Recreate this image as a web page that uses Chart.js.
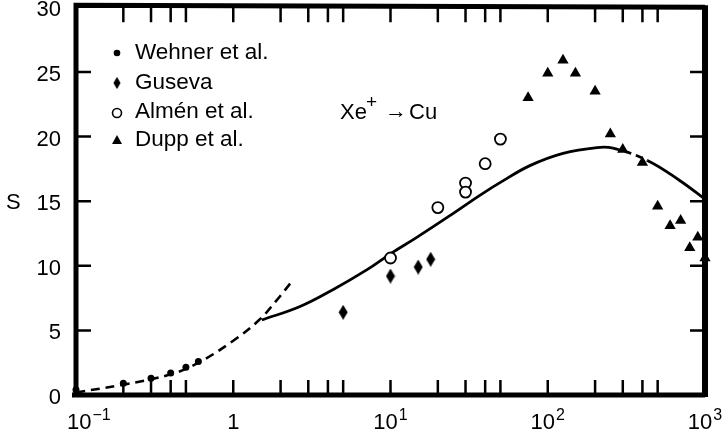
<!DOCTYPE html>
<html>
<head>
<meta charset="utf-8">
<script src="https://cdn.jsdelivr.net/npm/chart.js@4/dist/chart.umd.min.js"></script>
<style>
  html, body { margin: 0; padding: 0; background: #fff; }
  #wrap { width: 724px; height: 440px; }
</style>
</head>
<body>
<div id="wrap"><canvas id="grafica" width="724" height="440"></canvas></div>
<script>
// energia (keV) y rendimiento S
const wehnerE = [0.1, 0.2, 0.3, 0.4, 0.5, 0.6];
const wehnerS = [0.4, 0.9, 1.3, 1.7, 2.15, 2.6];

const gusevaE = [5, 10, 15, 18];
const gusevaS = [6.4, 9.2, 9.9, 10.5];

const almenE = [10, 20, 30, 30, 40, 50];
const almenS = [10.6, 14.5, 16.4, 15.7, 17.9, 19.8];

const duppE = [75, 100, 125, 150, 200, 250, 300, 400, 500, 600, 700, 800, 900, 1000];
const duppS = [23.0, 24.9, 25.9, 24.9, 23.5, 20.2, 19.0, 18.0, 14.6, 13.1, 13.5, 11.4, 12.2, 10.6];

const teoriaE = [1.52, 2.66, 4.3, 7.1, 10.2, 14.7, 24, 37, 50, 77, 125, 206, 260, 430, 690, 1000];
const teoriaS = [5.8, 6.85, 8.15, 9.7, 11.0, 12.2, 13.9, 15.45, 16.45, 17.75, 18.7, 19.15, 19.1, 18.15, 16.6, 15.15];

const bajaE = [0.1, 0.2, 0.4, 0.6, 1.0, 1.46, 1.88, 2.4];
const bajaS = [0.2, 0.8, 1.6, 2.5, 4.2, 5.8, 7.3, 8.9];

const xMayores = [0.1, 1, 10, 100, 1000];
const xBase = ["10", "1", "10", "10", "10"];
const xExpo = ["\u22121", "", "1", "2", "3"];
const xMenores = [0.2, 0.3, 0.4, 0.5, 2, 3, 4, 5, 20, 30, 40, 50, 200, 300, 400, 500];
const yMarcas = [5, 10, 15, 20, 25];

const nombres = ["Wehner et al.", "Guseva", "Alm\u00E9n et al.", "Dupp et al."];

const fuente = "'Liberation Sans', Arial, sans-serif";

function puntos(xs, ys){
    return xs.map((x, i) => ({ x: x, y: ys[i] }));
}

// rombo alto para Guseva
const rombo = document.createElement("canvas");
rombo.width = 10;
rombo.height = 15;
{
    const c = rombo.getContext("2d");
    c.fillStyle = "#000";
    c.beginPath();
    c.moveTo(5, 0);
    c.lineTo(9.5, 7.5);
    c.lineTo(5, 15);
    c.lineTo(0.5, 7.5);
    c.closePath();
    c.fill();
}

const marcoPlugin = {
    id: "marco",
    beforeDatasetsDraw(chart){
        const ctx = chart.ctx;
        const a = chart.chartArea;
        const xs = chart.scales.x;
        const ys = chart.scales.y;
        ctx.save();
        ctx.strokeStyle = "#000";
        ctx.lineCap = "butt";

        // marcas hacia dentro
        ctx.lineWidth = 2.5;
        const largo = 15;
        [...xMayores.slice(1, 4), ...xMenores].forEach(v => {
            const px = xs.getPixelForValue(v);
            ctx.beginPath();
            ctx.moveTo(px, a.top);
            ctx.lineTo(px, a.top + largo);
            ctx.moveTo(px, a.bottom);
            ctx.lineTo(px, a.bottom - largo);
            ctx.stroke();
        });
        yMarcas.forEach(v => {
            const py = ys.getPixelForValue(v);
            ctx.beginPath();
            ctx.moveTo(a.left, py);
            ctx.lineTo(a.left + largo, py);
            ctx.moveTo(a.right, py);
            ctx.lineTo(a.right - largo, py);
            ctx.stroke();
        });

        // marco
        ctx.lineWidth = 5;
        ctx.beginPath();
        ctx.moveTo(a.left - 4, a.bottom);
        ctx.lineTo(a.right, a.bottom);
        ctx.moveTo(a.left, a.bottom + 2);
        ctx.lineTo(a.left, a.top - 2);
        ctx.lineTo(a.right, a.top);
        ctx.stroke();
        ctx.lineWidth = 6;
        ctx.beginPath();
        ctx.moveTo(a.right, a.top - 2);
        ctx.lineTo(a.right, a.bottom + 2);
        ctx.stroke();
        ctx.restore();
    },
    afterDraw(chart){
        const ctx = chart.ctx;
        const xs = chart.scales.x;
        ctx.save();
        ctx.fillStyle = "#000";
        ctx.textBaseline = "alphabetic";

        // etiquetas del eje x con exponente
        xMayores.forEach((v, i) => {
            ctx.font = "22px " + fuente;
            const wb = ctx.measureText(xBase[i]).width;
            ctx.font = "16px " + fuente;
            const we = xExpo[i] ? ctx.measureText(xExpo[i]).width + 1 : 0;
            let x0 = xs.getPixelForValue(v) - (wb + we) / 2;
            if (i === 0) x0 = 67;
            ctx.font = "22px " + fuente;
            ctx.fillText(xBase[i], x0, 429);
            if (xExpo[i]){
                ctx.font = "16px " + fuente;
                ctx.fillText(xExpo[i], x0 + wb + 1, 420);
            }
        });

        ctx.textBaseline = "middle";
        ctx.font = "22px " + fuente;
        ctx.fillText("S", 6, 203);

        // leyenda
        const filas = [53, 83, 112, 140];
        filas.forEach((y, i) => {
            const mx = 117;
            ctx.fillStyle = "#000";
            ctx.strokeStyle = "#000";
            if (i === 0){
                ctx.beginPath();
                ctx.arc(mx, y, 3.3, 0, Math.PI * 2);
                ctx.fill();
            } else if (i === 1){
                ctx.drawImage(rombo, mx - 4, y - 6, 8, 12);
            } else if (i === 2){
                ctx.lineWidth = 1.6;
                ctx.beginPath();
                ctx.arc(mx, y + 1, 4.5, 0, Math.PI * 2);
                ctx.stroke();
            } else {
                ctx.beginPath();
                ctx.moveTo(mx, y - 5);
                ctx.lineTo(mx + 5, y + 4);
                ctx.lineTo(mx - 5, y + 4);
                ctx.closePath();
                ctx.fill();
            }
            ctx.font = "22.5px " + fuente;
            ctx.fillText(nombres[i], 135, y);
        });

        // reaccion
        ctx.font = "22px " + fuente;
        ctx.fillText("Xe", 340, 113);
        ctx.font = "19px " + fuente;
        ctx.fillText("+", 366, 103);
        ctx.font = "22px " + fuente;
        ctx.fillText("\u2192", 385, 112);
        ctx.fillText("Cu", 409, 113);
        ctx.restore();
    }
};

new Chart(
    document.getElementById("grafica"),
    {
        type: "scatter",
        data: {
            datasets: [
                {
                    label: nombres[0],
                    data: puntos(wehnerE, wehnerS),
                    pointStyle: "circle",
                    pointRadius: 3.5,
                    backgroundColor: "#000",
                    borderColor: "#000",
                    borderWidth: 0
                },
                {
                    label: nombres[1],
                    data: puntos(gusevaE, gusevaS),
                    pointStyle: rombo,
                    backgroundColor: "#000",
                    borderColor: "#000"
                },
                {
                    label: nombres[2],
                    data: puntos(almenE, almenS),
                    pointStyle: "circle",
                    pointRadius: 5.5,
                    backgroundColor: "#fff",
                    borderColor: "#000",
                    borderWidth: 1.8
                },
                {
                    label: nombres[3],
                    data: puntos(duppE, duppS),
                    pointStyle: "triangle",
                    pointRadius: 6.5,
                    backgroundColor: "#000",
                    borderColor: "#000",
                    borderWidth: 0
                },
                {
                    label: "teoria",
                    data: puntos(teoriaE, teoriaS),
                    showLine: true,
                    pointRadius: 0,
                    borderColor: "#000",
                    borderWidth: 2.8,
                    tension: 0.4,
                    segment: {
                        borderDash: s => (s.p0.parsed.x >= 255 && s.p1.parsed.x <= 435) ? [7, 5] : undefined
                    }
                },
                {
                    label: "baja energia",
                    data: puntos(bajaE, bajaS),
                    showLine: true,
                    pointRadius: 0,
                    borderColor: "#000",
                    borderWidth: 2.6,
                    borderDash: [9, 6],
                    tension: 0.4
                }
            ]
        },
        options: {
            responsive: false,
            animation: false,
            clip: false,
            layout: { padding: { top: 6, right: 19, left: 0, bottom: 0 } },
            plugins: {
                legend: { display: false },
                tooltip: { enabled: false }
            },
            scales: {
                x: {
                    type: "logarithmic",
                    min: 0.1,
                    max: 1000,
                    afterBuildTicks: s => { s.ticks = xMayores.map(v => ({ value: v })); },
                    afterFit: s => {
                        s.height = 45;
                        s.paddingLeft = 0;
                        s.paddingRight = 0;
                    },
                    grid: { display: false, drawTicks: false },
                    border: { display: false },
                    ticks: {
                        autoSkip: false,
                        maxRotation: 0,
                        callback: () => ""
                    }
                },
                y: {
                    min: 0,
                    max: 30,
                    afterFit: s => {
                        s.width = 76;
                        s.paddingTop = 0;
                        s.paddingBottom = 0;
                    },
                    grid: { display: false, drawTicks: false },
                    border: { display: false },
                    ticks: {
                        stepSize: 5,
                        padding: 15,
                        labelOffset: 3,
                        color: "#000",
                        font: { family: fuente, size: 22 }
                    }
                }
            }
        },
        plugins: [marcoPlugin]
    }
);
</script>
</body>
</html>
